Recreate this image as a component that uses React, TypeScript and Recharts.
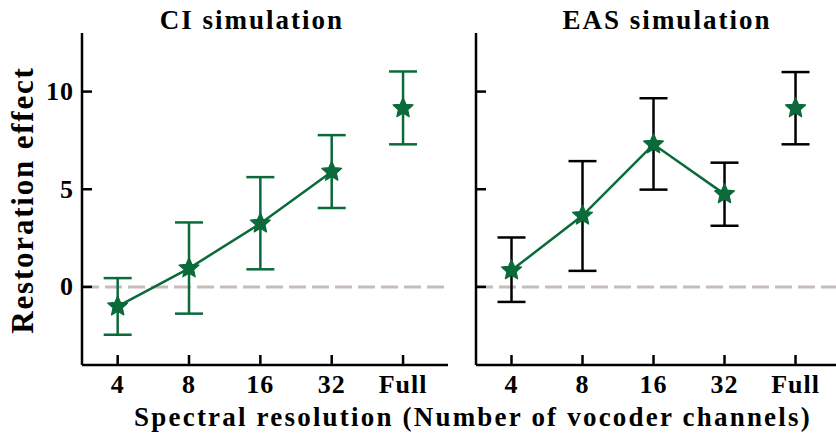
import React from "react";
import {
  ComposedChart,
  Line,
  Scatter,
  ErrorBar,
  XAxis,
  YAxis,
  ReferenceLine,
} from "recharts";

// channel conditions along x
const channels = ["4", "8", "16", "32", "Full"];

// CI simulation
const ciMean = [-1.0, 0.95, 3.25, 5.9, 9.15];
const ciHigh = [0.45, 3.3, 5.62, 7.77, 11.03];
const ciLow = [-2.45, -1.37, 0.9, 4.04, 7.3];

// EAS simulation
const easMean = [0.85, 3.65, 7.3, 4.75, 9.15];
const easHigh = [2.53, 6.44, 9.66, 6.36, 11.0];
const easLow = [-0.77, 0.82, 4.98, 3.13, 7.3];

const yTicks = [0, 5, 10];

const GREEN = "#0b6a3a";
const FONT = "'Liberation Serif', 'Times New Roman', serif";

function buildRows(mean: number[], low: number[], high: number[]) {
  return channels.map((c, i) => ({
    x: i + 1,
    label: c,
    mean: mean[i],
    // last point (Full) is not joined to the line
    line: c === "Full" ? null : mean[i],
    err: [mean[i] - low[i], high[i] - mean[i]],
  }));
}

const Star = (props: any) => {
  const { cx, cy } = props;
  if (cx == null || cy == null) return null;
  const pts: string[] = [];
  for (let i = 0; i < 10; i++) {
    const r = i % 2 === 0 ? 10.5 : 4.9;
    const a = -Math.PI / 2 + (i * Math.PI) / 5;
    pts.push(`${cx + r * Math.cos(a)},${cy + r * Math.sin(a)}`);
  }
  return <polygon points={pts.join(" ")} fill={GREEN} stroke={GREEN} strokeWidth={1.2} strokeLinejoin="round" />;
};

const YTick = (props: any) => {
  const { x, y, payload, showLabel } = props;
  return (
    <g>
      <line x1={x} x2={x + 10} y1={y} y2={y} stroke="#000" strokeWidth={2.5} />
      {showLabel && (
        <text
          x={x - 8}
          y={y}
          textAnchor="end"
          dominantBaseline="central"
          fontFamily={FONT}
          fontWeight="bold"
          fontSize={26}
          letterSpacing={1}
          fill="#000"
        >
          {payload.value}
        </text>
      )}
    </g>
  );
};

const XTick = (props: any) => {
  const { x, y, payload } = props;
  return (
    <g>
      <line x1={x} x2={x} y1={y - 10} y2={y} stroke="#000" strokeWidth={2.5} />
      <text
        x={x}
        y={y + 28}
        textAnchor="middle"
        fontFamily={FONT}
        fontWeight="bold"
        fontSize={26}
        letterSpacing={1}
        fill="#000"
      >
        {channels[payload.value - 1]}
      </text>
    </g>
  );
};

function Panel(props: {
  rows: any[];
  width: number;
  margin: any;
  yWidth: number;
  xMax: number;
  showYLabels: boolean;
  barColor: string;
}) {
  const { rows, width, margin, yWidth, xMax, showYLabels, barColor } = props;
  return (
    <ComposedChart width={width} height={433} data={rows} margin={margin}>
      <XAxis
        dataKey="x"
        type="number"
        domain={[0.5, xMax]}
        ticks={[1, 2, 3, 4, 5]}
        height={30}
        tickSize={0}
        tickMargin={0}
        tickLine={false}
        tick={<XTick />}
        axisLine={{ stroke: "#000", strokeWidth: 2.5 }}
        allowDataOverflow
      />
      <YAxis
        type="number"
        domain={[-4, 13]}
        ticks={yTicks}
        width={yWidth}
        tickSize={0}
        tickMargin={0}
        tickLine={false}
        tick={<YTick showLabel={showYLabels} />}
        axisLine={{ stroke: "#000", strokeWidth: 2.5 }}
        allowDataOverflow
      />
      <ReferenceLine y={0} stroke="#c8bcb8" strokeWidth={3} strokeDasharray="17 6" />
      <Line
        dataKey="line"
        stroke={GREEN}
        strokeWidth={2.5}
        dot={false}
        activeDot={false}
        connectNulls={false}
        isAnimationActive={false}
      />
      <Scatter dataKey="mean" shape={<Star />} isAnimationActive={false}>
        <ErrorBar
          dataKey="err"
          direction="y"
          width={14}
          stroke={barColor}
          strokeWidth={2.5}
        />
      </Scatter>
    </ComposedChart>
  );
}

export default function App() {
  const ciRows = buildRows(ciMean, ciLow, ciHigh);
  const easRows = buildRows(easMean, easLow, easHigh);
  const textStyle = {
    fontFamily: FONT,
    fontWeight: "bold" as const,
    fill: "#000",
  };
  return (
    <div style={{ position: "absolute", left: 0, top: 0, width: 836, height: 433, background: "#fff", overflow: "hidden" }}>
      <svg width={836} height={433} style={{ position: "absolute", left: 0, top: 0 }}>
        <text x={252} y={29} textAnchor="middle" fontSize={27} letterSpacing={2} {...textStyle}>
          CI simulation
        </text>
        <text x={667} y={29} textAnchor="middle" fontSize={27} letterSpacing={2} {...textStyle}>
          EAS simulation
        </text>
        <text x={473} y={426} textAnchor="middle" fontSize={27} letterSpacing={2.2} {...textStyle}>
          Spectral resolution (Number of vocoder channels)
        </text>
        <text
          x={0}
          y={0}
          transform="translate(33,200) rotate(-90)"
          textAnchor="middle"
          fontSize={31}
          letterSpacing={1.8}
          {...textStyle}
        >
          Restoration effect
        </text>
      </svg>
      <div style={{ position: "absolute", left: 0, top: 0 }}>
        <Panel
          rows={ciRows}
          width={460}
          margin={{ top: 33, right: 12, bottom: 38, left: 42 }}
          yWidth={40}
          xMax={5.63}
          showYLabels={true}
          barColor={GREEN}
        />
      </div>
      <div style={{ position: "absolute", left: 440, top: 0 }}>
        <Panel
          rows={easRows}
          width={396}
          margin={{ top: 33, right: 0, bottom: 38, left: 0 }}
          yWidth={36}
          xMax={5.57}
          showYLabels={false}
          barColor="#000"
        />
      </div>
    </div>
  );
}
